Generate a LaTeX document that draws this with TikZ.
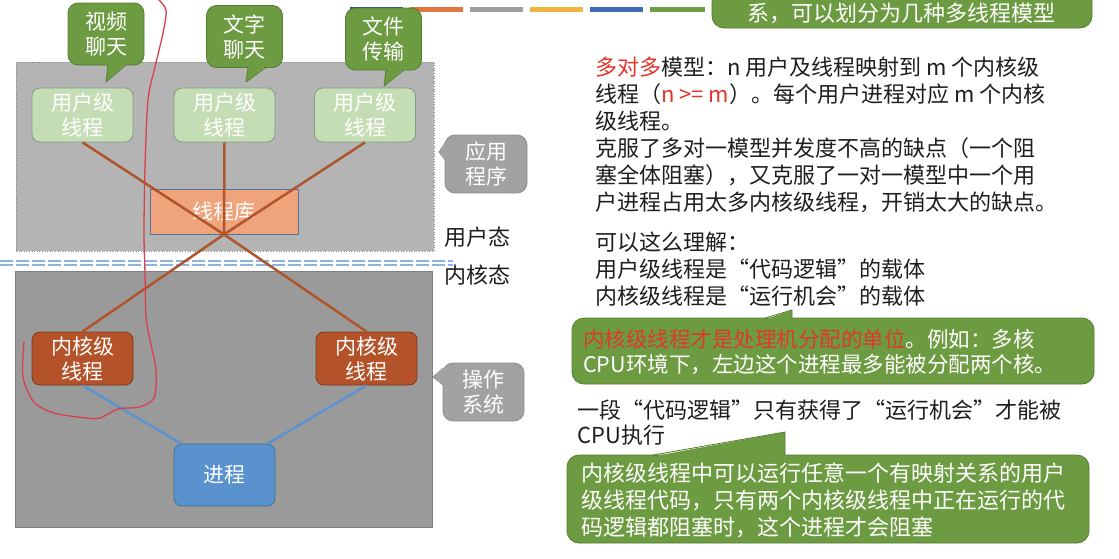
\documentclass[tikz,border=0pt]{standalone}
\usepackage{fontspec}
\setmainfont{Noto Sans CJK SC}
\usetikzlibrary{calc}
\definecolor{upgray}{HTML}{B4B4B4}
\definecolor{upborder}{HTML}{8C8C8C}
\definecolor{lowgray}{HTML}{9A9A9A}
\definecolor{lowborder}{HTML}{7F7F7F}
\definecolor{ugreen}{HTML}{C5DDB4}
\definecolor{uborder}{HTML}{7D9C86}
\definecolor{libfill}{HTML}{F0A47C}
\definecolor{libborder}{HTML}{52739E}
\definecolor{kfill}{HTML}{B4532A}
\definecolor{kborder}{HTML}{7C3A1D}
\definecolor{pfill}{HTML}{5A92CE}
\definecolor{pborder}{HTML}{41719C}
\definecolor{brownline}{HTML}{B0552B}
\definecolor{blueline}{HTML}{5C93D1}
\definecolor{bubgreen}{HTML}{6D9B41}
\definecolor{bubborder}{HTML}{557E30}
\definecolor{graybub}{HTML}{A2A2A2}
\definecolor{graybubborder}{HTML}{8E8E8E}
\definecolor{dashblue}{HTML}{8DB3E0}
\definecolor{hired}{HTML}{E2352B}
\definecolor{calloutred}{HTML}{DD3A2C}
\definecolor{txtblack}{HTML}{1E1E1E}
\definecolor{penred}{HTML}{D7404C}
\definecolor{barnavy}{HTML}{2E4D87}
\definecolor{barorange}{HTML}{E07640}
\definecolor{bargray}{HTML}{9F9F9F}
\definecolor{baryellow}{HTML}{F2B441}
\definecolor{barblue}{HTML}{4169B5}
\definecolor{bargreen}{HTML}{6E9E48}
\begin{document}
\begin{tikzpicture}[x=1pt,y=-1pt,
  basebox/.style={rounded corners=8pt, minimum width=101pt, minimum height=54pt, inner sep=0pt, align=center, text=white, font=\fontsize{21}{25}\selectfont, line width=0.8pt},
  ubox/.style={basebox, draw=uborder, fill=ugreen},
  kbox/.style={basebox, draw=kborder, fill=kfill, minimum height=53pt},
  pbox/.style={basebox, draw=pborder, fill=pfill, minimum height=62pt},
  gbub/.style={basebox, draw=bubborder, fill=bubgreen, minimum width=76pt, minimum height=62pt, rounded corners=10pt},
  graybox/.style={basebox, draw=graybubborder, fill=graybub, minimum width=82pt, minimum height=58pt, rounded corners=10pt},
  conn/.style={line width=2.5pt, draw=brownline},
  bconn/.style={line width=2.5pt, draw=blueline},
  rtext/.style={font=\fontsize{22}{27}\selectfont, align=left, inner sep=0pt, text=txtblack},
  ctext/.style={align=left, inner sep=0pt, text=white},
  callout/.style={fill=bubgreen, draw=bubborder, line width=0.8pt, rounded corners=12pt, inner sep=0pt},
  bar/.style={line width=5pt},
  dashline/.style={draw=dashblue, line width=2pt, dash pattern=on 13pt off 3pt},
  pen/.style={draw=penred, line width=1.3pt, line cap=round, line join=round},
  lbl/.style={font=\fontsize{22}{27}\selectfont, text=txtblack, inner sep=0pt},
]
\useasboundingbox (0,0) rectangle (1119,558);
\clip (0,0) rectangle (1119,558);
\fill[white] (0,0) rectangle (1119,558);

% colour bars
\draw[bar, barnavy] (350,9) -- (403,9);
\draw[bar, barorange] (410,9) -- (463,9);
\draw[bar, bargray] (470,9) -- (523,9);
\draw[bar, baryellow] (530,9) -- (583,9);
\draw[bar, barblue] (590,9) -- (643,9);
\draw[bar, bargreen] (650,9) -- (705,9);

% top green box
\node[callout, minimum width=380pt, minimum height=50pt] (topbox) at (902,3) {};
\node[font=\fontsize{22}{27}\selectfont, text=white, inner sep=0pt] (toptext) at (901,13) {系，可以划分为几种多线程模型};

% containers
\node[draw=upborder, fill=upgray, dotted, line width=0.6pt, minimum width=418pt, minimum height=189pt, inner sep=0pt] (urect) at (225,156.5) {};
\node[draw=lowborder, fill=lowgray, line width=0.8pt, minimum width=417pt, minimum height=256pt, inner sep=0pt] (lrect) at (223.5,399) {};

% separator
\draw[dashline] (0,261) -- (453,261);
\draw[dashline] (0,265) -- (453,265);

% thread library
\node[draw=libborder, fill=libfill, line width=0.8pt, minimum width=148pt, minimum height=45pt, inner sep=0pt, text=white, font=\fontsize{21}{25}\selectfont] (lib) at (224,211.5) {线程库};

% boxes
\node[ubox] (u1) at (82.5,115) {用户级\\线程};
\node[ubox] (u2) at (224.5,115) {用户级\\线程};
\node[ubox] (u3) at (365,115) {用户级\\线程};
\node[kbox] (k1) at (82.5,358.5) {内核级\\线程};
\node[kbox] (k2) at (366.5,358.5) {内核级\\线程};
\node[pbox] (p) at (224.5,475) {进程};

% connectors
\draw[conn] (u1.south) -- (lib.south);
\draw[conn] (u2.south) -- (lib.south);
\draw[conn] (u3.south) -- (lib.south);
\draw[conn] (lib.south) -- (k1.north);
\draw[conn] (lib.south) -- (k2.north);
\draw[bconn] (k1.south) -- (p.144);
\draw[bconn] (k2.south) -- (p.36);

% green bubbles
\node[gbub] (b1) at (106,34) {视频\\聊天};
\fill[bubgreen] (108,63.6) -- (106,82) -- (126,63.6) -- cycle;
\draw[bubborder, line width=0.8pt, line join=round] (108,65) -- (106,82) -- (126,65);
\node[gbub] (b2) at (244.5,36.5) {文字\\聊天};
\fill[bubgreen] (248,66.1) -- (246,82) -- (266,66.1) -- cycle;
\draw[bubborder, line width=0.8pt, line join=round] (248,67.5) -- (246,82) -- (266,67.5);
\node[gbub] (b3) at (383.5,39) {文件\\传输};
\fill[bubgreen] (386,68.6) -- (384,86) -- (404,68.6) -- cycle;
\draw[bubborder, line width=0.8pt, line join=round] (386,70) -- (384,86) -- (404,70);

% gray bubbles
\node[graybox] (app) at (486,164) {应用\\程序};
\fill[graybub] (446.4,143) -- (439,152) -- (446.4,160) -- cycle;
\draw[graybubborder, line width=0.8pt, line join=round] (445,143) -- (439,152) -- (445,160);
\node[graybox, minimum width=81pt] (os) at (483.5,392) {操作\\系统};
\fill[graybub] (444.4,368) -- (433,377) -- (444.4,385) -- cycle;
\draw[graybubborder, line width=0.8pt, line join=round] (443,368) -- (433,377) -- (443,385);

% mode labels
\node[lbl] (umode) at (477,237) {用户态};
\node[lbl] (kmode) at (477,275) {内核态};

% right texts
\node[rtext, anchor=north west] (para1) at (595,57) {\textcolor{hired}{多对多}模型：n 用户及线程映射到 m 个内核级\\线程（\textcolor{hired}{n >= m}）。每个用户进程对应 m 个内核\\级线程。\\克服了多对一模型并发度不高的缺点（一个阻\\塞全体阻塞），又克服了一对一模型中一个用\\户进程占用太多内核级线程，开销太大的缺点。};
\node[rtext, anchor=north west] (para2) at (595,232) {可以这么理解：\\用户级线程是“代码逻辑”的载体\\内核级线程是“运行机会”的载体};

% callout 1
\node[callout, minimum width=522pt, minimum height=66pt] (c1) at (833,351) {};
\fill[bubgreen] (765,319.4) -- (792,310) -- (792,319.4) -- cycle;
\draw[bubborder, line width=0.8pt, line join=round] (765,318) -- (792,310) -- (792,318);
\node[ctext, anchor=west, font=\fontsize{21.5}{25}\selectfont] (c1text) at (583,352.5) {\textcolor{calloutred}{内核级线程才是处理机分配的单位}。例如：多核\\CPU环境下，左边这个进程最多能被分配两个核。};

\node[rtext, font=\fontsize{22}{25}\selectfont, anchor=north west] (para3) at (577,400) {一段“代码逻辑”只有获得了“运行机会”才能被\\CPU执行};

% callout 2
\node[callout, minimum width=522pt, minimum height=88pt] (c2) at (828,499) {};
\fill[bubgreen] (653,456.4) -- (785,432) -- (785,456.4) -- cycle;
\draw[bubborder, line width=0.8pt, line join=round] (653,455) -- (785,432) -- (785,455);
\node[ctext, anchor=west, font=\fontsize{22}{27}\selectfont] (c2text) at (581,500) {内核级线程中可以运行任意一个有映射关系的用户\\级线程代码，只有两个内核级线程中正在运行的代\\码逻辑都阻塞时，这个进程才会阻塞};

% red pen stroke
\draw[pen] plot[smooth, tension=0.5] coordinates {(157,-2) (166,10) (163,33) (155,67) (148,100) (145,167) (144,233) (145,273) (146,317) (150,340) (156,370) (154,398) (139,407) (118,409) (100,418) (86,418) (54,413) (34,402) (23,377) (24,342)};
\end{tikzpicture}
\end{document}
